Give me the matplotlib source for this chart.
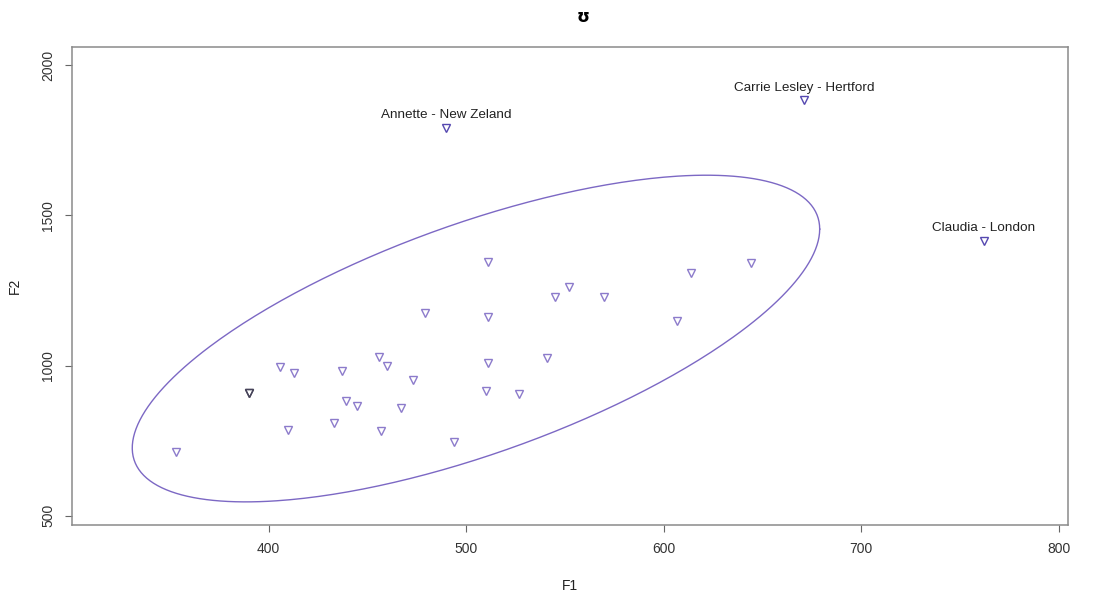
import numpy as np
import matplotlib
matplotlib.use("Agg")
import matplotlib.pyplot as plt
from collections import Counter

plt.rcParams['font.family'] = ['Liberation Sans', 'DejaVu Sans']

# Data (F1, F2)
f1 = [353, 390, 390, 406, 413, 437, 439, 433, 410, 479, 511, 456, 460, 511, 541,
      473, 510, 527, 445, 467, 457, 494, 511, 552, 545, 570, 614, 607, 644]
f2 = [711, 909, 909, 994, 974, 982, 882, 810, 786, 1174, 1162, 1028, 999, 1008, 1026,
      952, 915, 904, 866, 858, 782, 746, 1344, 1261, 1228, 1228, 1309, 1147, 1340]

out_names = ["Annette - New Zeland", "Carrie Lesley - Hertford", "Claudia - London"]
out_f1 = [490, 671, 762]
out_f2 = [1791, 1883, 1414]

# ellipse parameters (center, half extents, correlation)
ell_center = (505, 1090)
ell_sx, ell_sy, ell_rho = 174, 544, 0.67

title = "ʊ"

fig = plt.figure(figsize=(10.98, 5.95), dpi=100)
ax = fig.add_axes([72/1098, (595-525)/595, (1068-72)/1098, (525-47)/595])

counts = Counter(zip(f1, f2))
cols = ['#47445a' if counts[(x, y)] > 1 else '#8C7BCB' for x, y in zip(f1, f2)]
for x, y, c in zip(f1, f2, cols):
    ax.plot(x, y, linestyle='none', marker='v', markersize=6, markerfacecolor='none',
            markeredgecolor=c, markeredgewidth=1.0)
ax.plot(out_f1, out_f2, linestyle='none', marker='v', markersize=6, markerfacecolor='none',
        markeredgecolor='#5548B0', markeredgewidth=1.0)
for n, x, y in zip(out_names, out_f1, out_f2):
    ax.annotate(n, (x, y), xytext=(0, 5), textcoords='offset points', ha='center',
                va='bottom', fontsize=9.7, color='#222222')

t = np.linspace(0, 2*np.pi, 400)
ex = ell_center[0] + ell_sx*np.cos(t)
ey = ell_center[1] + ell_sy*(ell_rho*np.cos(t) + np.sqrt(1-ell_rho**2)*np.sin(t))
ax.plot(ex, ey, color='#7C68C4', linewidth=1.0)

ax.set_xlim(300.5, 804.7)
ax.set_ylim(469, 2061)
ax.set_xticks([400, 500, 600, 700, 800])
ax.set_yticks([500, 1000, 1500, 2000])
for s in ax.spines.values():
    s.set_color('#8a8a8a')
    s.set_linewidth(1.1)
ax.tick_params(axis='both', length=5, width=0.8, color='#666666', labelsize=10,
               labelcolor='#333333', pad=7)
for lbl in ax.get_yticklabels():
    lbl.set_rotation(90)
    lbl.set_va('center')
ax.set_xlabel("F1", fontsize=10, color='#222222', labelpad=17)
ax.set_ylabel("F2", fontsize=10, color='#222222', labelpad=14)
fig.text(583/1098, 1-17/595, title, ha='center', va='center', fontsize=12,
         fontweight='bold', family=['DejaVu Sans'])

fig.savefig("out.png", dpi=100, facecolor='white')
